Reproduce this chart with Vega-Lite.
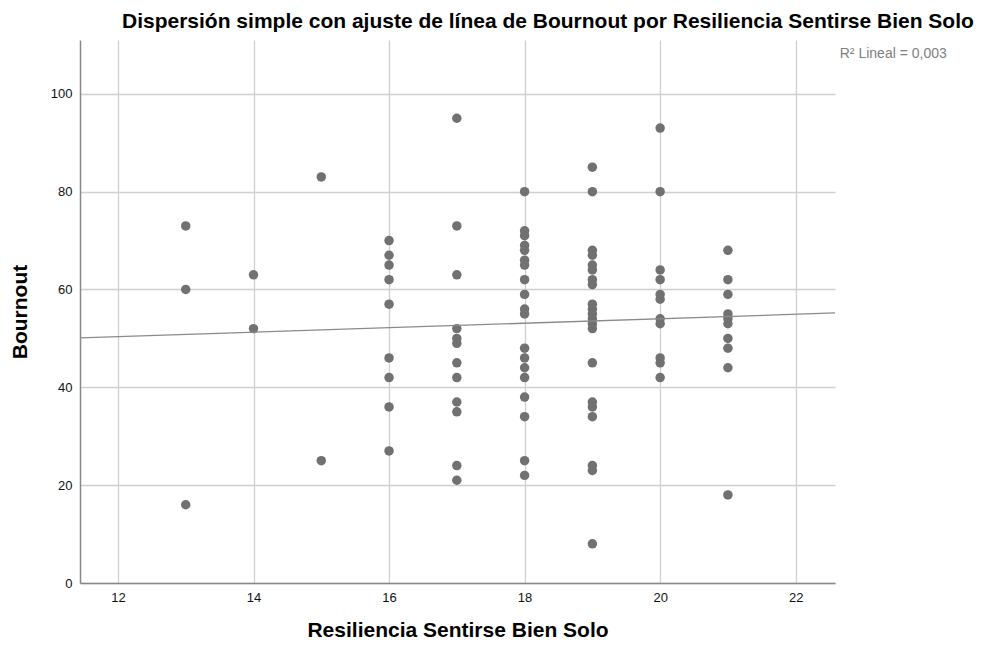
{
  "$schema": "https://vega.github.io/schema/vega-lite/v6.json",
  "width": 755,
  "height": 543,
  "autosize": "none",
  "padding": {"left": 80, "top": 40, "right": 152, "bottom": 65},
  "background": "white",
  "config": {
    "view": {"stroke": null},
    "font": "Liberation Sans"
  },
  "title": {
    "text": "Dispersión simple con ajuste de línea de Bournout por Resiliencia Sentirse Bien Solo",
    "anchor": "start",
    "frame": "group",
    "dx": 42,
    "offset": 8,
    "fontSize": 21,
    "fontWeight": "bold",
    "font": "Liberation Sans",
    "color": "#000000"
  },
  "datasets": {
    "points": [
      {"x": 13, "y": 73}, {"x": 13, "y": 60}, {"x": 13, "y": 16},
      {"x": 14, "y": 63}, {"x": 14, "y": 52},
      {"x": 15, "y": 83}, {"x": 15, "y": 25},
      {"x": 16, "y": 70}, {"x": 16, "y": 67}, {"x": 16, "y": 65}, {"x": 16, "y": 62}, {"x": 16, "y": 57}, {"x": 16, "y": 46}, {"x": 16, "y": 42}, {"x": 16, "y": 36}, {"x": 16, "y": 27},
      {"x": 17, "y": 95}, {"x": 17, "y": 73}, {"x": 17, "y": 63}, {"x": 17, "y": 52}, {"x": 17, "y": 50}, {"x": 17, "y": 49}, {"x": 17, "y": 45}, {"x": 17, "y": 42}, {"x": 17, "y": 37}, {"x": 17, "y": 35}, {"x": 17, "y": 24}, {"x": 17, "y": 21},
      {"x": 18, "y": 80}, {"x": 18, "y": 72}, {"x": 18, "y": 71}, {"x": 18, "y": 69}, {"x": 18, "y": 68}, {"x": 18, "y": 66}, {"x": 18, "y": 65}, {"x": 18, "y": 62}, {"x": 18, "y": 59}, {"x": 18, "y": 56}, {"x": 18, "y": 55}, {"x": 18, "y": 48}, {"x": 18, "y": 46}, {"x": 18, "y": 44}, {"x": 18, "y": 42}, {"x": 18, "y": 38}, {"x": 18, "y": 34}, {"x": 18, "y": 25}, {"x": 18, "y": 22},
      {"x": 19, "y": 85}, {"x": 19, "y": 80}, {"x": 19, "y": 68}, {"x": 19, "y": 67}, {"x": 19, "y": 65}, {"x": 19, "y": 64}, {"x": 19, "y": 62}, {"x": 19, "y": 61}, {"x": 19, "y": 57}, {"x": 19, "y": 56}, {"x": 19, "y": 55}, {"x": 19, "y": 54}, {"x": 19, "y": 53}, {"x": 19, "y": 52}, {"x": 19, "y": 45}, {"x": 19, "y": 37}, {"x": 19, "y": 36}, {"x": 19, "y": 34}, {"x": 19, "y": 24}, {"x": 19, "y": 23}, {"x": 19, "y": 8},
      {"x": 20, "y": 93}, {"x": 20, "y": 80}, {"x": 20, "y": 64}, {"x": 20, "y": 62}, {"x": 20, "y": 59}, {"x": 20, "y": 58}, {"x": 20, "y": 54}, {"x": 20, "y": 53}, {"x": 20, "y": 46}, {"x": 20, "y": 45}, {"x": 20, "y": 42},
      {"x": 21, "y": 68}, {"x": 21, "y": 62}, {"x": 21, "y": 59}, {"x": 21, "y": 55}, {"x": 21, "y": 54}, {"x": 21, "y": 53}, {"x": 21, "y": 50}, {"x": 21, "y": 48}, {"x": 21, "y": 44}, {"x": 21, "y": 18}
    ],
    "fit": [
      {"x": 11.44, "y": 50.1},
      {"x": 22.58, "y": 55.2}
    ],
    "note": [
      {"x": 22.65, "y": 108.2, "label": "R² Lineal = 0,003"}
    ]
  },
  "layer": [
    {
      "data": {"name": "points"},
      "mark": {"type": "point", "filled": true, "size": 90, "color": "#717171", "opacity": 1},
      "encoding": {
        "x": {
          "field": "x", "type": "quantitative",
          "scale": {"domain": [11.44, 22.58], "nice": false, "zero": false},
          "axis": {
            "values": [12, 14, 16, 18, 20, 22],
            "format": "d",
            "title": "Resiliencia Sentirse Bien Solo",
            "titleFontSize": 21, "titleFontWeight": "bold", "titleColor": "#000000",
            "titlePadding": 15,
            "labelFontSize": 13, "labelColor": "#111111", "labelPadding": 8,
            "domainColor": "#888888", "domainWidth": 1.5,
            "ticks": false,
            "grid": true, "gridColor": "#cfcfcf", "gridWidth": 1.3
          }
        },
        "y": {
          "field": "y", "type": "quantitative",
          "scale": {"domain": [0, 111], "nice": false},
          "axis": {
            "values": [0, 20, 40, 60, 80, 100],
            "title": "Bournout",
            "titleFontSize": 21, "titleFontWeight": "bold", "titleColor": "#000000",
            "titlePadding": 20,
            "labelFontSize": 13, "labelColor": "#111111", "labelPadding": 8,
            "domainColor": "#888888", "domainWidth": 1.5,
            "ticks": false,
            "grid": true, "gridColor": "#cfcfcf", "gridWidth": 1.3
          }
        }
      }
    },
    {
      "data": {"name": "fit"},
      "mark": {"type": "line", "color": "#8a8a8a", "strokeWidth": 1.3},
      "encoding": {
        "x": {"field": "x", "type": "quantitative"},
        "y": {"field": "y", "type": "quantitative"}
      }
    },
    {
      "data": {"name": "note"},
      "mark": {"type": "text", "align": "left", "baseline": "middle", "fontSize": 14, "color": "#808080", "clip": false},
      "encoding": {
        "x": {"field": "x", "type": "quantitative"},
        "y": {"field": "y", "type": "quantitative"},
        "text": {"field": "label"}
      }
    }
  ]
}
